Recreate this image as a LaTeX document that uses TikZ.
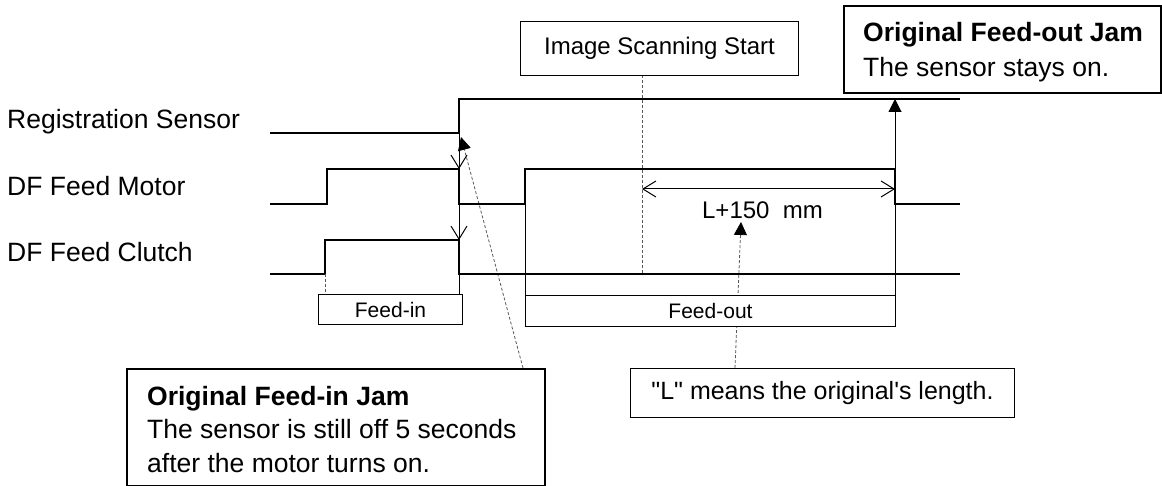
\documentclass[tikz,border=0pt]{standalone}
\usepackage{fontspec}
\setmainfont{Liberation Sans}[Ligatures=TeXOff]
\usetikzlibrary{arrows.meta}
\begin{document}
\begin{tikzpicture}[x=1bp,y=-1bp,
  signal/.style={line width=2.2bp, line join=miter, black},
  thinline/.style={line width=1bp, black},
  guide/.style={line width=0.8bp, black!65, dash pattern=on 3bp off 2bp},
  barb/.style={-{Straight Barb[length=13bp,width=16bp,black]}},
  dimarrow/.style={{Straight Barb[length=13bp,width=16bp]}-{Straight Barb[length=13bp,width=16bp]}},
  solidtip/.style={-{Triangle[length=13bp,width=13bp,black]}},
  lab/.style={anchor=base west, inner sep=0pt, font=\fontsize{26.5bp}{32bp}\selectfont},
  thinbox/.style={draw, line width=1bp, fill=white, anchor=north west, inner sep=0pt},
  jambox/.style={draw, line width=2bp, fill=white, anchor=north west, inner sep=0pt}
]
\useasboundingbox (0,0) rectangle (1162,486);

% signal labels
\node[lab] (lreg) at (7,129) {Registration Sensor};
\node[lab] (lmot) at (7,196) {DF Feed Motor};
\node[lab] (lclu) at (7,262) {DF Feed Clutch};

% key coordinates
\coordinate (regEdge) at (459,133);
\coordinate (motFall) at (459,169);
\coordinate (motLow)  at (459,204);
\coordinate (cluFall) at (459,240);
\coordinate (cluLow)  at (459,274);
\coordinate (cluRise) at (325,274);
\coordinate (motRise2) at (525,204);
\coordinate (motFall2low) at (895,204);
\coordinate (motFall2high) at (895,169);
\coordinate (regHigh) at (895,99);
\coordinate (scanLow) at (642,274);
\coordinate (scanTop) at (642,75);
\coordinate (dimL) at (642,189);
\coordinate (dimR) at (895,189);
\coordinate (finTip) at (461,137);
\coordinate (finStart) at (523,368);
\coordinate (lTip) at (741,222);
\coordinate (lStart) at (735,368);

% guide lines (behind boxes)
\draw[guide, solidtip] (finStart) -- (finTip);
\draw[guide, solidtip] (lStart) -- (lTip);
\draw[guide] (scanTop) -- (scanLow);

% signals
\draw[signal] (270,133) -- (regEdge) -- (459,99) -- (960,99);
\draw[signal] (270,204) -- (327,204) -- (327,169) -- (motFall) -- (motLow) -- (motRise2) -- (525,169) -- (motFall2high) -- (motFall2low) -- (960,204);
\draw[signal] (270,274) -- (cluRise) -- (325,240) -- (cluFall) -- (cluLow) -- (960,274);

% boxes
\node[thinbox, minimum width=144bp, minimum height=30bp] (feedin) at (318,294)
  {\fontsize{21bp}{25bp}\selectfont Feed-in};
\node[thinbox, minimum width=370bp, minimum height=31bp] (feedout) at (525,295)
  {\fontsize{21bp}{25bp}\selectfont Feed-out};
\node[thinbox, minimum width=278bp, minimum height=54bp] (iss) at (520,21)
  {\fontsize{24bp}{28bp}\selectfont Image Scanning Start};
\node[thinbox, minimum width=384bp, minimum height=49bp] (note) at (630,368)
  {\fontsize{25bp}{30bp}\selectfont "L" means the original's length.};
\node[jambox, minimum width=317bp, minimum height=87bp] (foutjam) at (843,5) {};
\node[jambox, minimum width=418bp, minimum height=117bp] (finjam) at (126,368) {};

% texts in jam boxes
\node[lab] (foutT) at (863,42) {\textbf{Original Feed-out Jam}};
\node[lab] (foutB) at (863,77) {The sensor stays on.};
\node[lab] (finT) at (147,405) {\textbf{Original Feed-in Jam}};
\node[lab] (finB1) at (147,438) {The sensor is still off 5 seconds};
\node[lab] (finB2) at (147,472) {after the motor turns on.};

% thin connectors
\draw[thinline, barb] (regEdge) -- (motFall);
\draw[thinline, barb] (motLow) -- (cluFall);
\draw[thinline] (cluLow) -- (cluLow |- feedin.north);
\draw[guide] (cluRise) -- (cluRise |- feedin.north);
\draw[thinline] (motRise2) -- (motRise2 |- feedout.north);
\draw[thinline] (motFall2low) -- (motFall2low |- feedout.north);
\draw[thinline, solidtip] (motFall2high) -- (regHigh);
\draw[thinline, dimarrow] (dimL) -- (dimR);
\node[inner sep=0pt, font=\fontsize{24bp}{28bp}\selectfont] (dimtext) at (762.5,210) {L+150\ \ mm};
\end{tikzpicture}
\end{document}
